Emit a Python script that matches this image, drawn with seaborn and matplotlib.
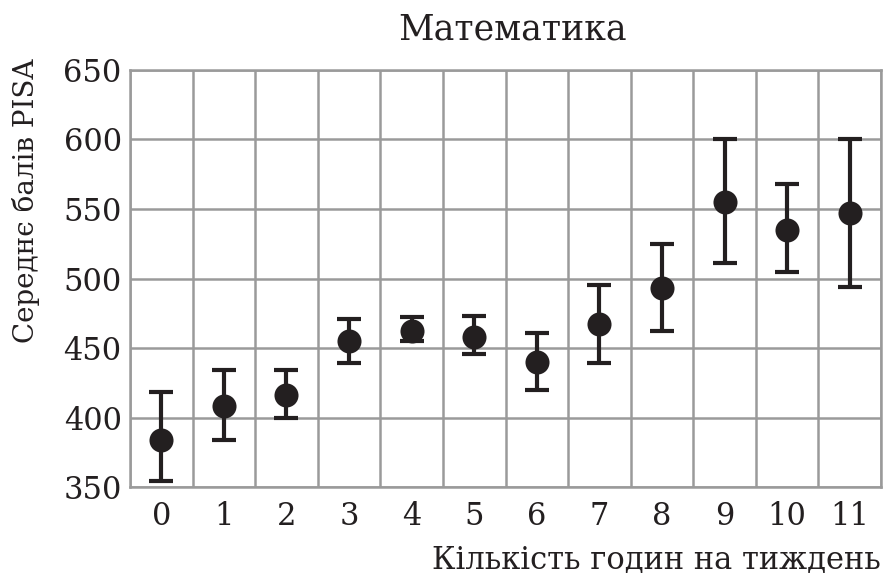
import numpy as np
import pandas as pd
import seaborn as sns
import matplotlib.pyplot as plt
from matplotlib.ticker import FixedLocator

# hours per week and PISA math score (mean, lower and upper whisker)
hours = [0, 1, 2, 3, 4, 5, 6, 7, 8, 9, 10, 11]
score_mean = [384, 408, 416, 455, 462, 458, 440, 467, 493, 555, 535, 547]
score_low = [354, 384, 400, 439, 455, 446, 420, 439, 462, 511, 505, 494]
score_high = [418, 434, 434, 471, 472, 473, 461, 495, 525, 600, 568, 600]
y_ticks = [350, 400, 450, 500, 550, 600, 650]

data = pd.DataFrame({"hours": hours, "mean": score_mean,
                     "low": score_low, "high": score_high})

sns.set_style("white")
plt.rcParams["font.family"] = ["DejaVu Serif"]

ink = "#231f20"
grid_col = "#9a9a9a"

fig = plt.figure(figsize=(8.91, 5.75), dpi=100)
ax = fig.add_axes([0.1459, 0.153, 0.8429, 0.7253])

yerr = np.array([data["mean"] - data["low"], data["high"] - data["mean"]])
ax.errorbar(data["hours"], data["mean"], yerr=yerr, fmt="none",
            ecolor=ink, elinewidth=3, capsize=8.5, capthick=3, zorder=3)
sns.scatterplot(data=data, x="hours", y="mean", ax=ax, color=ink,
                s=300, edgecolor=ink, linewidth=0, zorder=4)

ax.set_xlim(-0.5, 11.5)
ax.set_ylim(350, 650)
ax.set_xticks(hours)
ax.set_xticklabels([str(h) for h in hours])
ax.set_yticks(y_ticks)
ax.xaxis.set_minor_locator(FixedLocator(np.arange(-0.5, 12, 1)))
ax.grid(False)
ax.grid(True, which="minor", axis="x", color=grid_col, linewidth=1.8)
ax.grid(True, which="major", axis="y", color=grid_col, linewidth=1.8)
ax.set_axisbelow(True)
for s in ax.spines.values():
    s.set_color(grid_col)
    s.set_linewidth(1.8)

ax.tick_params(axis="both", which="both", length=0, labelsize=22, colors=ink)
ax.tick_params(axis="y", pad=6)
ax.tick_params(axis="x", pad=10)

ax.set_title("Математика", fontsize=25, color=ink, pad=22, x=0.51)
ax.set_xlabel("Кількість годин на тиждень", fontsize=22, color=ink)
ax.xaxis.set_label_coords(1.0, -0.14)
ax.xaxis.label.set_horizontalalignment("right")
ax.xaxis.label.set_verticalalignment("top")
ax.set_ylabel("Середнє балів PISA", fontsize=20, color=ink)
ax.yaxis.set_label_coords(-0.12, 0.686)

fig.savefig("out.png", dpi=100)
